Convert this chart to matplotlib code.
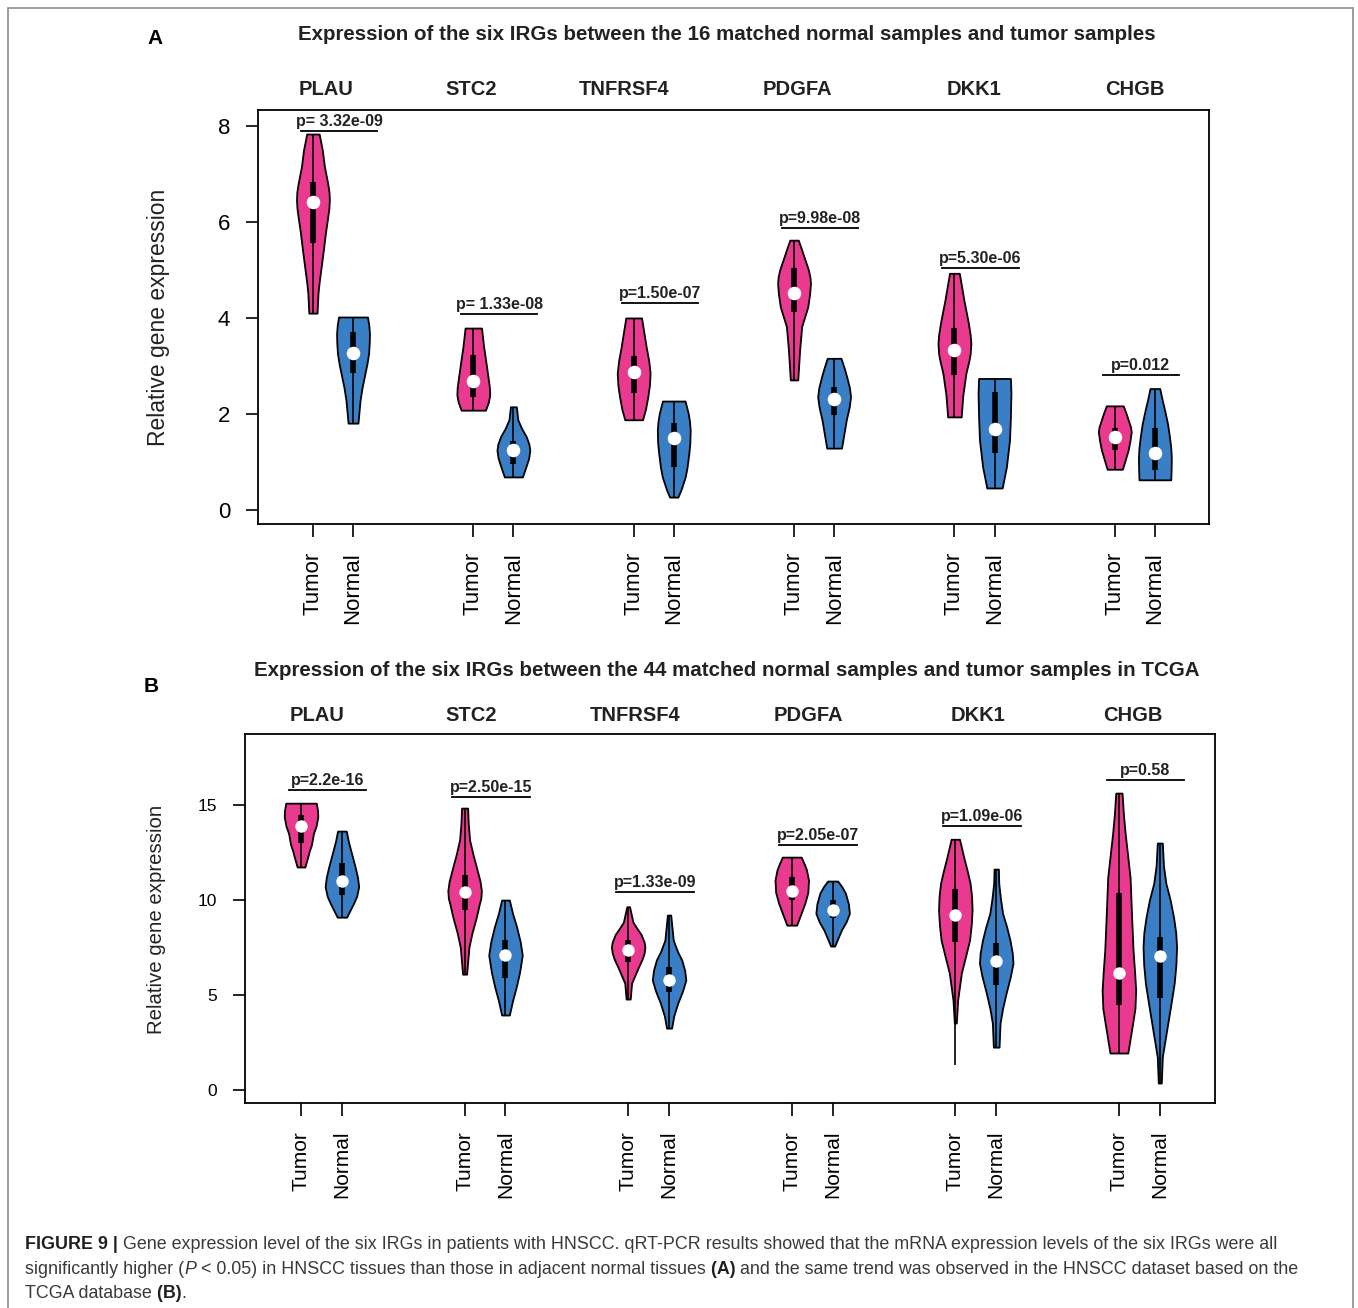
import numpy as np
import matplotlib
matplotlib.use('Agg')
import matplotlib.pyplot as plt
from matplotlib.patches import Rectangle

plt.rcParams['font.family'] = ['Liberation Sans', 'DejaVu Sans']

genes = ['PLAU', 'STC2', 'TNFRSF4', 'PDGFA', 'DKK1', 'CHGB']
groups = ['Tumor', 'Normal']

# ---- panel A: qRT-PCR, 16 matched pairs ----
# violin outlines: heights (top -> bottom) and relative widths
a_tumor_y = [
    [7.83, 7.5, 7.15, 6.8, 6.62, 6.45, 6.28, 6.1, 5.77, 5.4, 5.06, 4.72, 4.52, 4.10],
    [3.79, 3.4, 3.05, 2.71, 2.55, 2.4, 2.25, 2.08],
    [4.00, 3.7, 3.4, 3.1, 2.85, 2.6, 2.36, 2.1, 1.88],
    [5.62, 5.45, 5.28, 5.0, 4.85, 4.72, 4.5, 4.23, 3.82, 3.33, 2.71],
    [4.93, 4.37, 3.9, 3.65, 3.47, 3.25, 3.1, 2.85, 2.4, 1.94],
    [2.17, 2.0, 1.88, 1.73, 1.63, 1.45, 1.25, 0.85],
]
a_tumor_w = [
    [0.38, 0.57, 0.70, 0.90, 0.98, 1.00, 0.97, 0.90, 0.76, 0.63, 0.50, 0.37, 0.31, 0.25],
    [0.50, 0.63, 0.78, 0.92, 0.98, 1.00, 0.92, 0.74],
    [0.48, 0.62, 0.76, 0.92, 1.00, 0.96, 0.86, 0.72, 0.54],
    [0.25, 0.42, 0.58, 0.85, 0.94, 0.97, 0.92, 0.81, 0.45, 0.33, 0.22],
    [0.29, 0.56, 0.82, 0.93, 0.97, 0.93, 0.85, 0.68, 0.50, 0.40],
    [0.50, 0.68, 0.79, 0.93, 0.97, 0.90, 0.79, 0.45],
]
a_normal_y = [
    [4.02, 3.85, 3.68, 3.5, 3.27, 3.05, 2.85, 2.55, 2.29, 1.81],
    [2.15, 1.88, 1.7, 1.53, 1.38, 1.25, 1.08, 0.9, 0.69],
    [2.27, 2.02, 1.85, 1.67, 1.4, 1.18, 0.9, 0.69, 0.42, 0.27],
    [3.16, 2.95, 2.78, 2.55, 2.36, 2.15, 1.88, 1.29],
    [2.74, 2.43, 1.94, 1.46, 0.9, 0.46],
    [2.53, 2.3, 2.08, 1.8, 1.52, 1.3, 1.1, 0.85, 0.63],
]
a_normal_w = [
    [0.88, 0.96, 1.00, 0.99, 0.95, 0.85, 0.73, 0.55, 0.43, 0.30],
    [0.18, 0.27, 0.50, 0.78, 0.94, 1.00, 0.93, 0.76, 0.55],
    [0.66, 0.84, 0.92, 0.96, 0.94, 0.88, 0.78, 0.67, 0.42, 0.24],
    [0.42, 0.62, 0.76, 0.93, 1.00, 0.92, 0.74, 0.45],
    [0.91, 0.94, 0.91, 0.86, 0.68, 0.44],
    [0.27, 0.40, 0.54, 0.70, 0.81, 0.88, 0.91, 0.90, 0.88],
]
a_tumor_q1 = [5.56, 2.35, 2.44, 4.13, 2.81, 1.25]
a_tumor_med = [6.42, 2.69, 2.88, 4.52, 3.33, 1.52]
a_tumor_q3 = [6.83, 3.23, 3.21, 5.03, 3.79, 1.71]
a_tumor_lo = [4.10, 2.08, 1.88, 2.71, 1.94, 0.85]
a_tumor_hi = [7.83, 3.79, 4.00, 5.62, 4.93, 2.17]
a_normal_q1 = [2.85, 0.96, 0.90, 1.98, 1.18, 0.83]
a_normal_med = [3.27, 1.25, 1.50, 2.31, 1.68, 1.19]
a_normal_q3 = [3.71, 1.44, 1.81, 2.56, 2.46, 1.71]
a_normal_lo = [1.81, 0.69, 0.27, 1.29, 0.46, 0.63]
a_normal_hi = [4.02, 2.15, 2.27, 3.16, 2.74, 2.53]
a_pvals = ['p= 3.32e-09', 'p= 1.33e-08', 'p=1.50e-07', 'p=9.98e-08', 'p=5.30e-06', 'p=0.012']
a_pline = [7.9, 4.08, 4.31, 5.875, 5.04, 2.81]
a_gene_x = [0.33, 3.95, 7.75, 12.08, 16.48, 20.5]

# ---- panel B: TCGA, 44 matched pairs ----
b_tumor_y = [
    [15.1, 14.7, 14.37, 13.9, 13.5, 12.9, 12.6, 12.2, 11.74],
    [14.84, 14.0, 13.16, 12.4, 11.74, 11.3, 11.0, 10.5, 10.1, 9.8, 9.1, 8.3, 7.53, 6.1],
    [9.65, 8.84, 8.5, 8.2, 7.8, 7.53, 7.2, 6.9, 6.47, 5.63, 4.79],
    [12.26, 11.9, 11.6, 11.05, 10.4, 9.84, 9.2, 8.68],
    [13.2, 12.26, 11.5, 10.89, 10.2, 9.47, 8.7, 7.89, 7.0, 6.16, 4.74, 3.53],
    [15.63, 14.5, 13.5, 11.2, 9.1, 7.37, 6.2, 5.26, 4.3, 3.53, 1.95],
]
b_tumor_w = [
    [0.91, 0.99, 1.00, 0.90, 0.74, 0.62, 0.50, 0.38, 0.23],
    [0.18, 0.22, 0.30, 0.50, 0.70, 0.83, 0.92, 1.00, 0.97, 0.88, 0.70, 0.45, 0.26, 0.12],
    [0.08, 0.28, 0.52, 0.75, 0.93, 0.98, 0.93, 0.82, 0.60, 0.20, 0.12],
    [0.55, 0.72, 0.85, 0.97, 0.93, 0.76, 0.50, 0.28],
    [0.25, 0.50, 0.72, 0.88, 0.97, 1.00, 0.95, 0.85, 0.60, 0.36, 0.14, 0.06],
    [0.18, 0.26, 0.36, 0.64, 0.73, 0.81, 0.90, 0.96, 0.92, 0.79, 0.51],
]
b_normal_y = [
    [13.63, 13.1, 12.63, 11.7, 11.2, 10.7, 10.2, 9.84, 9.1],
    [10.0, 9.3, 8.6, 7.8, 7.1, 6.2, 5.42, 4.7, 3.95],
    [9.21, 7.89, 7.3, 6.84, 6.3, 5.79, 5.2, 4.58, 3.9, 3.26],
    [11.0, 10.7, 10.37, 9.8, 9.3, 8.85, 8.42, 7.58],
    [11.63, 10.89, 10.1, 9.3, 8.6, 7.89, 7.2, 6.68, 6.0, 5.1, 4.3, 3.53, 2.26],
    [13.0, 11.8, 10.89, 10.0, 9.1, 8.3, 7.53, 6.6, 5.63, 4.5, 3.53, 1.74, 0.37],
]
b_normal_w = [
    [0.26, 0.38, 0.52, 0.80, 0.93, 1.00, 0.88, 0.70, 0.28],
    [0.23, 0.42, 0.66, 0.88, 1.00, 0.84, 0.64, 0.42, 0.23],
    [0.10, 0.25, 0.50, 0.76, 0.93, 1.00, 0.80, 0.52, 0.28, 0.15],
    [0.30, 0.55, 0.76, 0.94, 1.00, 0.80, 0.52, 0.12],
    [0.13, 0.15, 0.25, 0.38, 0.62, 0.82, 0.96, 1.00, 0.85, 0.59, 0.38, 0.23, 0.17],
    [0.15, 0.22, 0.36, 0.62, 0.82, 0.95, 1.00, 0.96, 0.86, 0.66, 0.48, 0.15, 0.09],
]
b_tumor_q1 = [13.0, 9.47, 6.74, 10.0, 7.79, 4.47]
b_tumor_med = [13.9, 10.42, 7.37, 10.5, 9.21, 6.16]
b_tumor_q3 = [14.47, 11.3, 7.89, 11.2, 10.58, 10.37]
b_tumor_lo = [11.74, 6.1, 4.79, 8.68, 1.3, 1.95]
b_tumor_hi = [15.1, 14.84, 9.65, 12.26, 13.2, 15.63]
b_normal_q1 = [10.26, 5.9, 5.16, 9.05, 5.53, 4.84]
b_normal_med = [11.0, 7.1, 5.79, 9.5, 6.79, 7.05]
b_normal_q3 = [11.95, 7.9, 6.47, 10.0, 7.74, 8.05]
b_normal_lo = [9.1, 3.95, 3.26, 7.58, 2.26, 0.37]
b_normal_hi = [13.63, 10.0, 9.21, 11.0, 11.63, 13.0]
b_pvals = ['p=2.2e-16', 'p=2.50e-15', 'p=1.33e-09', 'p=2.05e-07', 'p=1.09e-06', 'p=0.58']
b_pline = [15.79, 15.42, 10.42, 12.9, 13.9, 16.3]
b_gene_x = [0.39, 4.17, 8.17, 12.41, 16.56, 20.34]

pink = '#E93A8F'
blue = '#3A7EC6'


def violins(ax, pos, ys, ws, q1, med, q3, lo, hi, color, dot):
    stats = []
    for y, w, m, a, b in zip(ys, ws, med, lo, hi):
        stats.append(dict(coords=np.array(y), vals=np.array(w), mean=m,
                          median=m, min=a, max=b))
    parts = ax.violin(stats, positions=pos, widths=0.82, showmeans=False,
                      showextrema=False, showmedians=False)
    for body in parts['bodies']:
        body.set_facecolor(color)
        body.set_edgecolor('black')
        body.set_linewidth(1.3)
        body.set_alpha(1)
    ax.vlines(pos, lo, hi, color='black', lw=1.2, zorder=3)
    ax.vlines(pos, q1, q3, color='black', lw=4.0, zorder=3)
    ax.scatter(pos, med, s=dot, color='white', zorder=4, linewidths=0)


def panel(ax, tumor, normal, pvals, pline, gene_x, ylim, yticks, ysize, xsize, dot):
    tpos = np.arange(len(genes)) * 4
    npos = tpos + 1
    violins(ax, tpos, *tumor, pink, dot)
    violins(ax, npos, *normal, blue, dot)
    ax.set_xlim(-1.37, 22.35)
    ax.set_ylim(*ylim)
    ax.set_yticks(yticks)
    ax.set_xticks(np.ravel(np.column_stack([tpos, npos])))
    ax.set_xticklabels(groups * len(genes), rotation=90)
    ax.tick_params(axis='y', labelsize=ysize, length=9, width=1.2, pad=11)
    ax.tick_params(axis='x', labelsize=xsize, length=9, width=1.2, pad=11)
    for s in ax.spines.values():
        s.set_linewidth(1.3)
    for i, (p, ly) in enumerate(zip(pvals, pline)):
        c = tpos[i] + 0.65
        ax.plot([c - 0.95, c + 0.95], [ly, ly], color='black', lw=1.3)
        ax.annotate(p, xy=(c, ly), xytext=(0, 1.5), textcoords='offset points',
                    ha='center', va='bottom', fontsize=11.5, fontweight='bold',
                    color='#222222')
    for g, gx in zip(genes, gene_x):
        ax.text(gx, 1.05, g, transform=ax.get_xaxis_transform(), ha='center',
                va='center', fontsize=14.5, fontweight='bold', color='#222222')


W, H = 1358, 1308
fig = plt.figure(figsize=(W / 100, H / 100), dpi=100)

axA = fig.add_axes([258 / W, 1 - 524 / H, 951 / W, 414 / H])
panel(axA,
      (a_tumor_y, a_tumor_w, a_tumor_q1, a_tumor_med, a_tumor_q3, a_tumor_lo, a_tumor_hi),
      (a_normal_y, a_normal_w, a_normal_q1, a_normal_med, a_normal_q3, a_normal_lo, a_normal_hi),
      a_pvals, a_pline, a_gene_x, (-0.29, 8.33), [0, 2, 4, 6, 8], 16, 16, 95)

axB = fig.add_axes([245 / W, 1 - 1103 / H, 970 / W, 369 / H])
panel(axB,
      (b_tumor_y, b_tumor_w, b_tumor_q1, b_tumor_med, b_tumor_q3, b_tumor_lo, b_tumor_hi),
      (b_normal_y, b_normal_w, b_normal_q1, b_normal_med, b_normal_q3, b_normal_lo, b_normal_hi),
      b_pvals, b_pline, b_gene_x, (-0.68, 18.74), [0, 5, 10, 15], 12.5, 15, 80)

fig.text(159 / W, 1 - 317.5 / H, 'Relative gene expression', rotation=90,
         ha='center', va='center', fontsize=16.5, color='#222222')
fig.text(157 / W, 1 - 919 / H, 'Relative gene expression', rotation=90,
         ha='center', va='center', fontsize=14.7, color='#222222')

fig.text(727 / W, 1 - 34 / H,
         'Expression of the six IRGs between the 16 matched normal samples and tumor samples',
         ha='center', va='center', fontsize=14.75, fontweight='bold', color='#222222')
fig.text(727 / W, 1 - 670 / H,
         'Expression of the six IRGs between the 44 matched normal samples and tumor samples in TCGA',
         ha='center', va='center', fontsize=14.75, fontweight='bold', color='#222222')
fig.text(155 / W, 1 - 39 / H, 'A', ha='center', va='center', fontsize=15,
         fontweight='bold', color='black')
fig.text(151 / W, 1 - 687 / H, 'B', ha='center', va='center', fontsize=15,
         fontweight='bold', color='black')

# outer frame
fig.patches.append(Rectangle((8 / W, -0.02), 1345 / W, 1.02 - 8 / H, transform=fig.transFigure,
                             fill=False, edgecolor='#8c8c8c', lw=1.2))

# caption with mixed styles, drawn piece by piece
cap_font = ['Liberation Sans Narrow', 'Liberation Sans', 'DejaVu Sans']
cap_lines = [
    [('FIGURE 9 |', 'bold', 'normal'),
     (' Gene expression level of the six IRGs in patients with HNSCC. qRT-PCR results showed that the mRNA expression levels of the six IRGs were all', 'normal', 'normal')],
    [('significantly higher (', 'normal', 'normal'), ('P', 'normal', 'italic'),
     (' < 0.05) in HNSCC tissues than those in adjacent normal tissues', 'normal', 'normal'),
     (' (A)', 'bold', 'normal'),
     (' and the same trend was observed in the HNSCC dataset based on the', 'normal', 'normal')],
    [('TCGA database', 'normal', 'normal'), (' (B)', 'bold', 'normal'), ('.', 'normal', 'normal')],
]
renderer = fig.canvas.get_renderer()
inv = fig.transFigure.inverted()
for k, line in enumerate(cap_lines):
    x = 25 / W
    y = 1 - (1249 + 24.5 * k) / H
    for txt, wt, st in line:
        t = fig.text(x, y, txt, ha='left', va='baseline', fontsize=12.9,
                     family=cap_font, fontweight=wt, fontstyle=st,
                     color='#231f20' if wt == 'bold' else '#3a3a3a')
        bb = t.get_window_extent(renderer)
        x = inv.transform((bb.x1, bb.y0))[0]

fig.savefig('out.png', dpi=100)
